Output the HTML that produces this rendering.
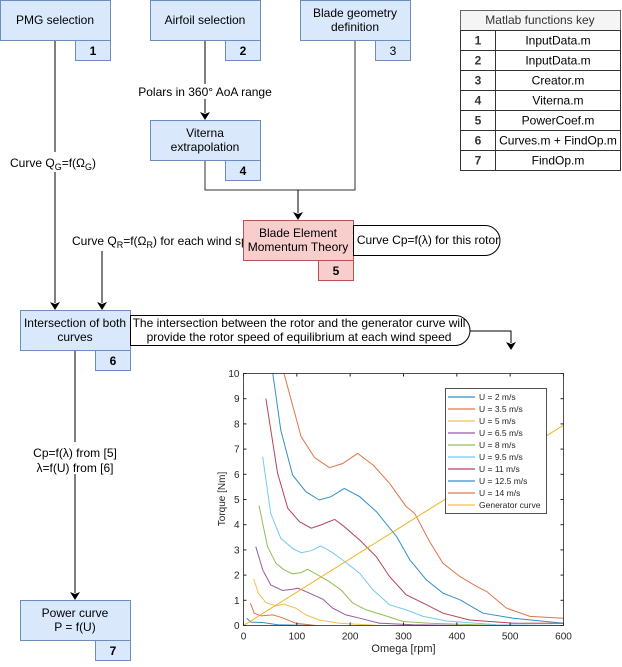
<!DOCTYPE html>
<html><head><meta charset="utf-8">
<style>
body{margin:0;width:622px;height:662px;background:#fff;overflow:hidden;font-family:"Liberation Sans",Arial,sans-serif;}
svg text{font-family:"Liberation Sans",Arial,sans-serif;}
</style></head>
<body>
<svg id="root" width="622" height="662" viewBox="0 0 622 662" xmlns="http://www.w3.org/2000/svg">
<defs><marker id="ar" markerWidth="8" markerHeight="8" refX="4" refY="7" orient="auto" markerUnits="userSpaceOnUse"><path d="M0,0 L4,7 L8,0 L4,2 Z" transform="rotate(0)" fill="#000"/></marker></defs>
<g font-size="12" fill="#000">
<!-- connectors -->
<g stroke="#000" stroke-width="1" fill="none">
<line x1="55" y1="40" x2="55" y2="303"/>
<line x1="205" y1="40" x2="205" y2="113"/>
<polyline points="205,160 205,190 355,190 355,40" stroke="#333"/>
<line x1="298" y1="190" x2="298" y2="213"/>
<line x1="102" y1="251" x2="102" y2="303"/>
<polyline points="470,331 511,331 511,343"/>
<line x1="75" y1="350" x2="75" y2="593"/>
</g>
<g fill="#000">
<path d="M50,302 L55,310 L60,302 L55,304Z"/>
<path d="M200,112 L205,120 L210,112 L205,114Z"/>
<path d="M293,212 L298,220 L303,212 L298,214Z"/>
<path d="M97,302 L102,310 L107,302 L102,304Z"/>
<path d="M506,342 L511,350 L516,342 L511,344Z"/>
<path d="M70,592 L75,600 L80,592 L75,594Z"/>
</g>
<!-- boxes -->
<g><rect x="0.5" y="0.5" width="110" height="40" fill="#dae8fc" stroke="#6c8ebf"/><text x="55" y="24" text-anchor="middle">PMG selection</text><rect x="75.5" y="40.5" width="35" height="20" fill="#dae8fc" stroke="#6c8ebf"/><text x="93" y="55" text-anchor="middle" font-weight="bold">1</text></g>
<g><rect x="150.5" y="0.5" width="110" height="40" fill="#dae8fc" stroke="#6c8ebf"/><text x="205" y="24" text-anchor="middle">Airfoil selection</text><rect x="225.5" y="40.5" width="35" height="20" fill="#dae8fc" stroke="#6c8ebf"/><text x="243" y="55" text-anchor="middle" font-weight="bold">2</text></g>
<g><rect x="300.5" y="0.5" width="110" height="40" fill="#dae8fc" stroke="#6c8ebf"/><text x="355" y="17" text-anchor="middle">Blade geometry</text><text x="355" y="31" text-anchor="middle">definition</text><rect x="375.5" y="40.5" width="35" height="20" fill="#dae8fc" stroke="#6c8ebf"/><text x="393" y="55" text-anchor="middle">3</text></g>
<g><rect x="150.5" y="120.5" width="110" height="40" fill="#dae8fc" stroke="#6c8ebf"/><text x="205" y="137" text-anchor="middle">Viterna</text><text x="205" y="151" text-anchor="middle">extrapolation</text><rect x="225.5" y="160.5" width="35" height="20" fill="#dae8fc" stroke="#6c8ebf"/><text x="243" y="175" text-anchor="middle" font-weight="bold">4</text></g>
<g><rect x="138" y="84" width="136" height="15" fill="#fff"/><text x="205" y="96" text-anchor="middle">Polars in 360° AoA range</text></g>
<g><rect x="8" y="152" width="92" height="20" fill="#fff"/><text x="10" y="167">Curve Q<tspan font-size="9" dy="3">G</tspan><tspan dy="-3">=f(Ω</tspan><tspan font-size="9" dy="3">G</tspan><tspan dy="-3">)</tspan></text></g>
<g><text x="72" y="245">Curve Q<tspan font-size="9" dy="3">R</tspan><tspan dy="-3">=f(Ω</tspan><tspan font-size="9" dy="3">R</tspan><tspan dy="-3">) for each wind speed</tspan></text></g>
<g><rect x="243.5" y="220.5" width="110" height="40" fill="#f8cecc" stroke="#b85450"/><text x="298" y="237" text-anchor="middle">Blade Element</text><text x="298" y="251" text-anchor="middle">Momentum Theory</text><rect x="318.5" y="260.5" width="35" height="20" fill="#f8cecc" stroke="#b85450"/><text x="336" y="275" text-anchor="middle" font-weight="bold">5</text></g>
<g><path d="M353.5,225.5 H485 A15,15 0 0 1 485,255.5 H353.5 Z" fill="#fff" stroke="#000"/><text x="428" y="244" text-anchor="middle">Curve Cp=f(λ) for this rotor</text></g>
<g><rect x="20.5" y="310.5" width="110" height="40" fill="#dae8fc" stroke="#6c8ebf"/><text x="75" y="327" text-anchor="middle">Intersection of both</text><text x="75" y="341" text-anchor="middle">curves</text><rect x="95.5" y="350.5" width="35" height="20" fill="#dae8fc" stroke="#6c8ebf"/><text x="113" y="365" text-anchor="middle" font-weight="bold">6</text></g>
<g><path d="M130.5,315.5 H455 A15,15 0 0 1 455,345.5 H130.5 Z" fill="#fff" stroke="#000"/><text x="299" y="327" text-anchor="middle">The intersection between the rotor and the generator curve will</text><text x="299" y="341" text-anchor="middle">provide the rotor speed of equilibrium at each wind speed</text></g>
<g><rect x="25" y="442" width="100" height="32" fill="#fff"/><text x="75" y="457" text-anchor="middle">Cp=f(λ) from [5]</text><text x="75" y="472" text-anchor="middle">λ=f(U) from [6]</text></g>
<g><rect x="20.5" y="600.5" width="110" height="40" fill="#dae8fc" stroke="#6c8ebf"/><text x="75" y="617" text-anchor="middle">Power curve</text><text x="75" y="631" text-anchor="middle">P = f(U)</text><rect x="95.5" y="640.5" width="35" height="20" fill="#dae8fc" stroke="#6c8ebf"/><text x="113" y="655" text-anchor="middle" font-weight="bold">7</text></g>
<g id="keytable"></g>
<g id="chart"></g>
</g>
</svg>
<script>
const NS="http://www.w3.org/2000/svg";
function mk(tag,attrs,parent,txt){const e=document.createElementNS(NS,tag);for(const k in attrs)e.setAttribute(k,attrs[k]);if(txt!==undefined)e.textContent=txt;parent.appendChild(e);return e;}
// key table
const keyFiles=["InputData.m","InputData.m","Creator.m","Viterna.m","PowerCoef.m","Curves.m + FindOp.m","FindOp.m"];
const kt=document.getElementById('keytable');
mk('rect',{x:460.5,y:10.5,width:160,height:20,fill:'#f5f5f5',stroke:'#666'},kt);
mk('text',{x:540,y:24,'text-anchor':'middle',fill:'#333'},kt,"Matlab functions key");
keyFiles.forEach((f,i)=>{const y=30.5+i*20;
const r=mk('rect',{x:460.5,y:y,width:160,height:20,fill:'#fff',stroke:'#333'},kt);


mk('line',{x1:495.5,y1:y,x2:495.5,y2:y+20,stroke:'#333'},kt);
mk('text',{x:478,y:y+14,'text-anchor':'middle','font-weight':'bold',fill:'#333'},kt,String(i+1));
mk('text',{x:558,y:y+14,'text-anchor':'middle'},kt,f);});

// chart data
const seriesNames=["U = 2 m/s","U = 3.5 m/s","U = 5 m/s","U = 6.5 m/s","U = 8 m/s","U = 9.5 m/s","U = 11 m/s","U = 12.5 m/s","U = 14 m/s"];
const seriesColors=["#0072bd","#d95319","#edb120","#7e2f8e","#77ac30","#4dbeee","#a2142f","#0072bd","#d95319"];
const omega2=[6,14,36,64,130];
const torque2=[0.29,0.13,0.12,0.03,0];
const omega35=[13,20,33,55,70,98,136];
const torque35=[0.89,0.49,0.38,0.42,0.33,0.09,0];
const omega5=[19,28,42,61,76,98,117,142,180,255];
const torque5=[1.85,1.28,0.91,0.78,0.85,0.69,0.42,0.22,0.09,0];
const omega65=[23,36,51,73,92,102,124,149,167,192,218,255,318,412];
const torque65=[3.13,2.21,1.61,1.39,1.44,1.48,1.28,1.04,0.69,0.42,0.29,0.09,0.03,0];
const omega8=[29,45,61,76,92,108,120,139,161,183,205,230,261,299,349,475];
const torque8=[4.76,3.13,2.47,2.21,2.05,2.1,2.23,2.01,1.74,1.41,0.89,0.62,0.42,0.16,0.09,0];
const omega95=[36,51,70,92,108,127,145,167,186,218,243,274,305,337,381,475,600];
const torque95=[6.7,4.45,3.46,3.06,2.89,2.97,3.16,2.89,2.6,2.07,1.41,0.82,0.62,0.36,0.18,0.03,0];
const omega11=[42,64,83,105,127,145,171,189,218,249,274,305,337,374,424,506,600];
const torque11=[9.0,6.04,4.65,4.12,3.86,3.99,4.21,3.92,3.39,2.73,1.94,1.22,0.89,0.49,0.22,0.09,0.09];
const omega125=[55,70,92,117,142,164,189,218,249,287,312,343,374,406,449,506,600];
const torque125=[10,7.75,5.97,5.31,4.98,5.11,5.44,5.11,4.52,3.53,2.6,1.81,1.28,1.02,0.49,0.29,0.09];
const omega14=[76,108,133,161,186,214,243,274,305,321,349,374,406,437,456,493,537,600];
const torque14=[10,7.5,6.67,6.26,6.43,6.83,6.37,5.64,4.72,4.45,3.33,2.47,1.94,1.55,1.35,0.69,0.36,0.29];
const genOmega=[0,600];
const genTorque=[0,7.95];
const xTicks=[0,100,200,300,400,500,600];
const yTicks=[0,1,2,3,4,5,6,7,8,9,10];
const seriesOmega=[omega2,omega35,omega5,omega65,omega8,omega95,omega11,omega125,omega14];
const seriesTorque=[torque2,torque35,torque5,torque65,torque8,torque95,torque11,torque125,torque14];

const L=243.5,R=563.5,T=373.5,B=625.5;
const sx=v=>L+(v-0)/(600-0)*(R-L);
const sy=v=>B-(v-0)/(10-0)*(B-T);
const ch=document.getElementById('chart');
mk('rect',{x:L,y:T,width:R-L,height:B-T,fill:'#fff'},ch);
const cp=mk('clipPath',{id:'cp'},ch);mk('rect',{x:L,y:T,width:R-L,height:B-T},cp);
const plot=mk('g',{'clip-path':'url(#cp)'},ch);
seriesOmega.forEach((xs,i)=>{
  const pts=xs.map((x,j)=>sx(x).toFixed(1)+','+sy(seriesTorque[i][j]).toFixed(1)).join(' ');
  const p=mk('polyline',{points:pts,fill:'none',stroke:seriesColors[i],'stroke-width':1,opacity:0.8},plot);
  
  
});
const g=mk('polyline',{points:genOmega.map((x,j)=>sx(x)+','+sy(genTorque[j])).join(' '),fill:'none',stroke:'#edb120','stroke-width':1},plot);


// axes box & ticks
mk('rect',{x:L,y:T,width:R-L,height:B-T,fill:'none',stroke:'#262626','stroke-width':0.8},ch);
xTicks.forEach(v=>{const x=sx(v);
mk('line',{x1:x,y1:B,x2:x,y2:B-3,stroke:'#262626'},ch);mk('line',{x1:x,y1:T,x2:x,y2:T+3,stroke:'#262626'},ch);
const t=mk('text',{x:x,y:B+14,'text-anchor':'middle','font-size':10,fill:'#262626'},ch,String(v));

});
yTicks.forEach(v=>{const y=sy(v);
mk('line',{x1:L,y1:y,x2:L+3,y2:y,stroke:'#262626'},ch);mk('line',{x1:R,y1:y,x2:R-3,y2:y,stroke:'#262626'},ch);
const t=mk('text',{x:L-4,y:y+3.5,'text-anchor':'end','font-size':10,fill:'#262626'},ch,String(v));

});
const xl=mk('text',{x:(L+R)/2,y:652,'text-anchor':'middle','font-size':11,fill:'#262626'},ch,"Omega [rpm]");


const yl=mk('text',{x:0,y:0,'text-anchor':'middle','font-size':10,fill:'#262626',transform:'translate(225,499) rotate(-90)'},ch,"Torque [Nm]");


// legend
const lg=mk('g',{},ch);


mk('rect',{x:445.5,y:388.5,width:101,height:125,fill:'#fff',stroke:'#262626','stroke-width':0.8},lg);
const legNames=seriesNames.concat(["Generator curve"]);
const legColors=seriesColors.concat(["#edb120"]);
legNames.forEach((n,i)=>{const y=397+i*12;
mk('line',{x1:448,y1:y,x2:475,y2:y,stroke:legColors[i]},lg);
const t=mk('text',{x:479,y:y+3,'font-size':8.5,fill:'#262626'},lg,n);

});
</script>
</body></html>
